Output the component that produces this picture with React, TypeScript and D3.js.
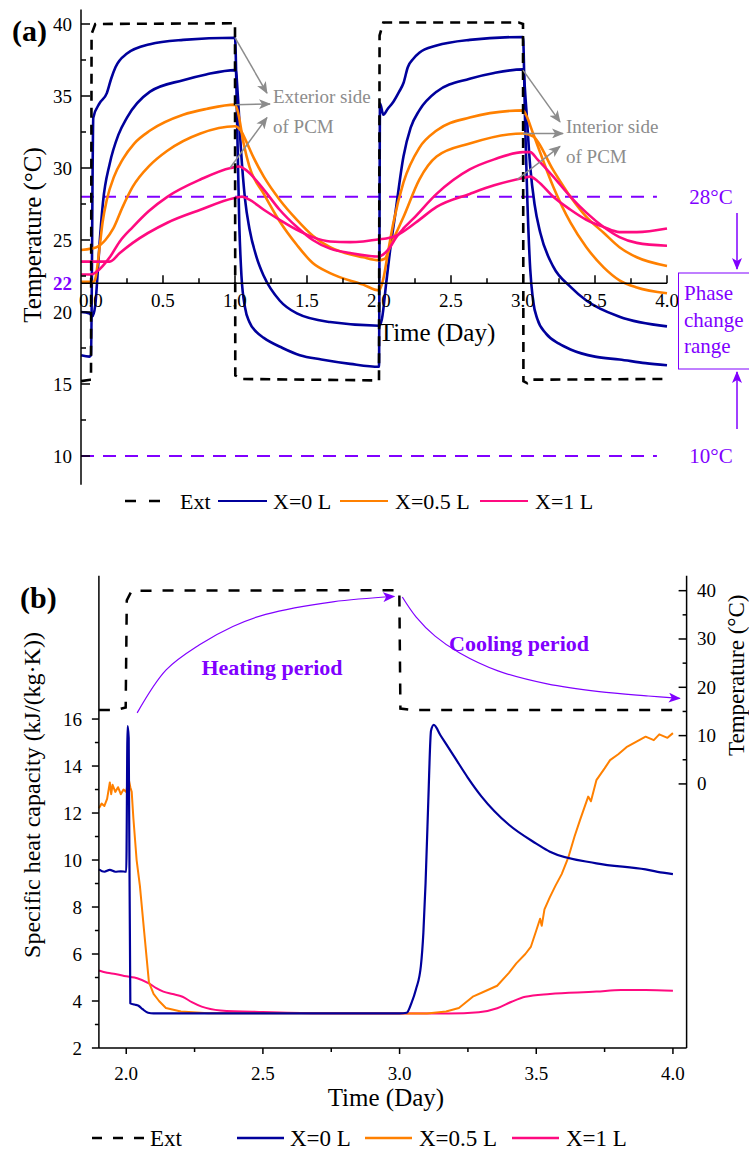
import React from "react";
import * as d3 from "d3";

type P = [number, number];

// ---------------- Colours / names ----------------
const NAVY = "#00009c";
const ORANGE = "#ff8000";
const PINK = "#ff0a80";
const PURPLE = "#8000ff";
const GRAY = "#8c8c8c";
const FONT = "'Liberation Serif', 'Times New Roman', serif";

const legendLabels = ["Ext", "X=0 L", "X=0.5 L", "X=1 L"];

// ---------------- Panel (a) data : [day, °C] ----------------
const extA: P[] = [
  [-0.069, 15.2], [-0.005, 15.3], [0.0, 15.3], [0.004, 39.3], [0.03, 40.0], [1.0, 40.05],
  [1.002, 15.6], [1.05, 15.35], [2.0, 15.25], [2.004, 39.2], [2.03, 40.1], [2.97, 40.1], [3.0, 40.0],
  [3.003, 15.2], [3.03, 15.05], [3.06, 15.3], [4.0, 15.35],
];
const navyExtA: P[] = [
  [-0.069, 17.0], [-0.01, 16.9], [0.0, 17.0], [0.016, 33.5], [0.06, 34.5], [0.11, 35.2], [0.14, 36.2],
  [0.17, 37.0], [0.25, 37.95], [0.41, 38.6], [0.64, 38.9], [1.0, 39.05],
  [1.015, 33.0], [1.03, 26.0], [1.045, 22.5], [1.07, 20.3], [1.1, 19.3], [1.15, 18.6], [1.2, 18.2],
  [1.33, 17.5], [1.45, 17.0], [1.6, 16.7], [1.8, 16.4], [2.0, 16.2],
  [2.007, 34.5], [2.03, 33.7], [2.06, 34.1], [2.1, 34.6], [2.14, 35.3], [2.17, 35.9], [2.2, 37.0],
  [2.24, 37.6], [2.28, 38.0], [2.4, 38.5], [2.63, 38.9], [3.0, 39.1],
  [3.015, 33.0], [3.03, 27.8], [3.05, 23.0], [3.07, 20.8], [3.1, 19.5], [3.16, 18.5], [3.25, 17.8],
  [3.33, 17.4], [3.5, 16.9], [3.67, 16.7], [3.85, 16.45], [4.0, 16.3],
];
const navyIntA: P[] = [
  [-0.069, 20.0], [-0.01, 19.9], [0.01, 19.7], [0.03, 20.5], [0.045, 22.5], [0.06, 24.8], [0.083, 27.6],
  [0.13, 30.3], [0.19, 32.3], [0.25, 33.5], [0.41, 35.3], [0.64, 36.1], [0.8, 36.5], [1.0, 36.8],
  [1.005, 36.8], [1.02, 35.0], [1.04, 31.5], [1.07, 27.8], [1.1, 25.8], [1.15, 23.8], [1.2, 22.5],
  [1.31, 20.8], [1.43, 19.9], [1.66, 19.3], [2.0, 19.05],
  [2.02, 19.5], [2.05, 22.0], [2.08, 24.5], [2.11, 26.6], [2.17, 30.8], [2.22, 32.8], [2.28, 34.0],
  [2.4, 35.3], [2.63, 36.2], [2.8, 36.6], [3.0, 36.85],
  [3.02, 34.5], [3.05, 30.1], [3.08, 27.5], [3.12, 25.5], [3.21, 23.15], [3.33, 21.75], [3.44, 20.8],
  [3.67, 19.67], [4.0, 19.0],
];
const orangeExtA: P[] = [
  [-0.069, 22.1], [0.02, 22.1], [0.03, 22.3], [0.06, 24.5], [0.08, 26.2], [0.11, 27.8], [0.16, 29.4],
  [0.22, 30.6], [0.3, 31.7], [0.41, 32.6], [0.64, 33.7], [0.8, 34.1], [1.0, 34.4],
  [1.02, 33.9], [1.06, 31.7], [1.1, 30.1], [1.2, 28.2], [1.31, 26.3], [1.43, 24.65], [1.54, 23.4],
  [1.66, 22.7], [1.89, 21.9], [2.0, 21.5],
  [2.03, 22.3], [2.06, 24.0], [2.1, 26.2], [2.17, 29.0], [2.28, 31.4], [2.4, 32.6], [2.63, 33.5], [3.0, 34.0],
  [3.02, 33.7], [3.07, 32.4], [3.21, 28.7], [3.33, 26.2], [3.44, 24.5], [3.56, 23.1], [3.67, 22.2],
  [3.79, 21.7], [4.0, 21.3],
];
const orangeIntA: P[] = [
  [-0.069, 24.3], [0.0, 24.4], [0.04, 24.5], [0.07, 24.7], [0.1, 25.0], [0.155, 25.8], [0.22, 27.3],
  [0.29, 28.7], [0.41, 30.2], [0.53, 31.2], [0.76, 32.4], [1.0, 32.9],
  [1.04, 32.6], [1.08, 31.8], [1.13, 30.7], [1.2, 29.4], [1.31, 27.8], [1.43, 26.4], [1.54, 25.3],
  [1.66, 24.5], [1.89, 23.8], [2.0, 23.6],
  [2.04, 23.7], [2.08, 24.6], [2.12, 25.5], [2.17, 26.6], [2.28, 29.2], [2.4, 30.8], [2.63, 31.7], [3.0, 32.4],
  [3.07, 32.2], [3.21, 29.85], [3.33, 28.0], [3.44, 26.6], [3.56, 25.5], [3.67, 24.5], [3.79, 23.8],
  [4.0, 23.2],
];
const pinkExtA: P[] = [
  [-0.069, 22.6], [0.0, 22.6], [0.04, 22.8], [0.13, 23.8], [0.2, 24.9], [0.29, 25.9], [0.4, 27.0],
  [0.53, 28.0], [0.76, 29.2], [0.97, 30.0], [1.03, 30.1], [1.07, 29.9],
  [1.2, 28.5], [1.31, 27.1], [1.43, 25.9], [1.54, 25.0], [1.66, 24.4], [1.8, 24.1], [2.0, 23.85],
  [2.03, 24.0], [2.07, 24.4], [2.12, 25.2], [2.17, 25.8], [2.24, 26.5], [2.4, 28.2], [2.63, 29.9],
  [2.8, 30.6], [3.0, 31.1], [3.05, 31.1], [3.1, 30.6],
  [3.21, 29.4], [3.33, 28.0], [3.44, 26.9], [3.56, 25.9], [3.67, 25.2], [3.79, 24.8], [4.0, 24.6],
];
const pinkIntA: P[] = [
  [-0.069, 23.5], [0.0, 23.5], [0.13, 23.5], [0.2, 24.1], [0.29, 24.8], [0.53, 26.2], [0.76, 27.1],
  [0.99, 27.9], [1.05, 28.0], [1.1, 27.8],
  [1.2, 27.1], [1.31, 26.4], [1.43, 25.7], [1.54, 25.2], [1.66, 24.9], [1.8, 24.85], [1.89, 24.9], [2.0, 25.05],
  [2.05, 25.1], [2.12, 25.3], [2.2, 25.8], [2.28, 26.4], [2.4, 27.3], [2.63, 28.2], [2.8, 28.8],
  [3.0, 29.3], [3.05, 29.4], [3.1, 29.1],
  [3.21, 28.0], [3.33, 27.1], [3.44, 26.4], [3.56, 25.9], [3.67, 25.55], [3.79, 25.55], [4.0, 25.8],
];

const xTicksA = [0, 0.5, 1.0, 1.5, 2.0, 2.5, 3.0, 3.5, 4.0];
const xMinorA = [0.25, 0.75, 1.25, 1.75, 2.25, 2.75, 3.25, 3.75];
const yTicksA = [10, 15, 20, 25, 30, 35, 40];
const yMinorA = [12.5, 17.5, 22.5, 27.5, 32.5, 37.5];
const phaseLevels = [28, 10];

// annotation arrows (start on curve, tip) in data units
const extArrows: [P, P][] = [
  [[1.0, 39.05], [1.222, 35.2]],
  [[1.0, 34.4], [1.243, 34.45]],
  [[0.965, 30.0], [1.222, 33.5]],
];
const intArrows: [P, P][] = [
  [[3.0, 36.8], [3.257, 33.2]],
  [[3.0, 32.4], [3.278, 32.4]],
  [[2.96, 29.2], [3.257, 31.5]],
];

// ---------------- Panel (b) data ----------------
const extB: P[] = [
  [1.9, 15.3], [1.96, 15.3], [1.998, 15.8], [2.002, 38.0], [2.02, 40.0], [2.999, 40.1],
  [3.003, 15.6], [3.05, 15.3], [4.0, 15.3],
];
const navyB: P[] = [
  [1.9, 9.6], [1.92, 9.5], [1.94, 9.58], [1.96, 9.5], [1.98, 9.52], [2.0, 9.5], [2.005, 15.7],
  [2.009, 15.2], [2.015, 3.9], [2.03, 3.85], [2.045, 3.8], [2.06, 3.65], [2.08, 3.5], [2.1, 3.47],
  [3.0, 3.47], [3.026, 3.5], [3.043, 3.9], [3.06, 4.5], [3.078, 5.5], [3.087, 6.9], [3.095, 9.0],
  [3.105, 12.5], [3.115, 15.5], [3.125, 15.75], [3.15, 15.3], [3.2, 14.4], [3.25, 13.5], [3.3, 12.7],
  [3.4, 11.5], [3.5, 10.7], [3.55, 10.35], [3.72, 9.86], [3.9, 9.6], [3.97, 9.45], [4.0, 9.4],
];
const orangeB: P[] = [
  [1.9, 12.2], [1.91, 12.4], [1.92, 12.3], [1.93, 12.6], [1.94, 13.3], [1.945, 12.8], [1.95, 13.2],
  [1.96, 12.9], [1.97, 13.1], [1.98, 12.8], [1.99, 13.0], [2.0, 12.9], [2.008, 13.5], [2.015, 13.1],
  [2.02, 12.9], [2.026, 11.8], [2.038, 10.0], [2.05, 8.9], [2.066, 6.9], [2.083, 4.8], [2.1, 4.3],
  [2.12, 4.0], [2.145, 3.7], [2.2, 3.55], [2.3, 3.48], [3.1, 3.47], [3.17, 3.55], [3.217, 3.7],
  [3.27, 4.2], [3.3, 4.35], [3.357, 4.65], [3.4, 5.2], [3.427, 5.6], [3.46, 6.0], [3.48, 6.3],
  [3.5, 7.0], [3.514, 7.5], [3.52, 7.2], [3.53, 7.9], [3.549, 8.4], [3.57, 8.9], [3.593, 9.4],
  [3.617, 10.1], [3.64, 11.0], [3.66, 11.7], [3.69, 12.7], [3.7, 12.5], [3.72, 13.4], [3.75, 13.9],
  [3.77, 14.25], [3.8, 14.5], [3.83, 14.8], [3.86, 15.0], [3.9, 15.25], [3.93, 15.1], [3.95, 15.35],
  [3.98, 15.2], [4.0, 15.4],
];
const pinkB: P[] = [
  [1.9, 5.3], [1.93, 5.2], [1.96, 5.15], [2.0, 5.05], [2.04, 4.97], [2.083, 4.75], [2.11, 4.55],
  [2.136, 4.4], [2.17, 4.3], [2.206, 4.18], [2.24, 3.95], [2.276, 3.76], [2.345, 3.6], [2.5, 3.53],
  [2.7, 3.48], [3.18, 3.47], [3.29, 3.52], [3.357, 3.69], [3.41, 3.97], [3.46, 4.18], [3.55, 4.3],
  [3.72, 4.4], [3.81, 4.47], [3.9, 4.47], [4.0, 4.44],
];

const xTicksB = [2.0, 2.5, 3.0, 3.5, 4.0];
const xMinorB = [2.25, 2.75, 3.25, 3.75];
const yTicksB = [2, 4, 6, 8, 10, 12, 14, 16];
const yMinorB = [3, 5, 7, 9, 11, 13, 15];
const yTicksBR = [0, 10, 20, 30, 40];
const yMinorBR = [5, 15, 25, 35];

// period arrows (day, °C on right axis)
const heatingArrow: P[] = [
  [2.04, 14.7], [2.146, 23.6], [2.268, 28.8], [2.39, 32.6], [2.51, 35.1], [2.756, 37.7], [2.98, 38.8],
];
const coolingArrow: P[] = [
  [3.01, 38.7], [3.06, 34.6], [3.13, 30.6], [3.22, 27.1], [3.36, 23.4], [3.54, 20.7], [3.73, 19.1], [3.91, 18.2], [4.025, 17.7],
];

// ---------------- Scales ----------------
const xA = d3.scaleLinear().domain([-0.0694, 4]).range([81, 667]);
const yA = d3.scaleLinear().domain([8, 41]).range([484.8, 9.6]);
const xB = d3.scaleLinear().domain([1.9, 4.05]).range([98.9, 686.6]);
const yB = d3.scaleLinear().domain([2, 22.1]).range([1048, 575.7]);
const yBR = d3.scaleLinear().domain([-54.66, 43.1]).range([1048, 575.7]);

const lineA = d3.line<P>().x((d) => xA(d[0])).y((d) => yA(d[1])).curve(d3.curveMonotoneX);
const lineALin = d3.line<P>().x((d) => xA(d[0])).y((d) => yA(d[1]));
const lineB = d3.line<P>().x((d) => xB(d[0])).y((d) => yB(d[1])).curve(d3.curveMonotoneX);
const lineBLin = d3.line<P>().x((d) => xB(d[0])).y((d) => yB(d[1]));
const lineBR = d3.line<P>().x((d) => xB(d[0])).y((d) => yBR(d[1]));
const lineBRCurve = d3.line<P>().x((d) => xB(d[0])).y((d) => yBR(d[1])).curve(d3.curveCatmullRom);

const fmt1 = d3.format(".1f");

export default function App() {
  const axA = xA(-0.0694);
  const ayA = yA(22);
  const axB = xB(1.9);
  const axBR = xB(4.05);
  const ayB = yB(2);
  const topB = yB(22.1);

  const t = { fontFamily: FONT, fill: "#000" } as const;

  return (
    <svg
      width={749}
      height={1151}
      viewBox="0 0 749 1151"
      style={{ position: "absolute", left: 0, top: 0, background: "#fff" }}
    >
      <defs>
        <marker id="gArrow" viewBox="0 0 12 10" refX="11" refY="5" markerWidth="12" markerHeight="10" markerUnits="userSpaceOnUse" orient="auto">
          <path d="M0,0 L12,5 L0,10 L3,5 z" fill={GRAY} />
        </marker>
        <marker id="pArrow" viewBox="0 0 12 10" refX="11" refY="5" markerWidth="12" markerHeight="10" markerUnits="userSpaceOnUse" orient="auto">
          <path d="M0,0 L12,5 L0,10 L3,5 z" fill={PURPLE} />
        </marker>
      </defs>

      {/* ================= Panel (a) ================= */}
      <text x={12} y={41} style={{ ...t, fontSize: 30, fontWeight: "bold" }}>(a)</text>

      {/* phase-change dashed levels */}
      {phaseLevels.map((v) => (
        <line key={v} x1={axA} x2={xA(3.93)} y1={yA(v)} y2={yA(v)} stroke={PURPLE} strokeWidth={2} strokeDasharray="13,9" />
      ))}

      {/* curves */}
      {[
        [navyExtA, NAVY], [navyIntA, NAVY], [orangeExtA, ORANGE], [orangeIntA, ORANGE], [pinkExtA, PINK], [pinkIntA, PINK],
      ].map(([d, c], i) => (
        <path key={i} d={lineA(d as P[]) || ""} fill="none" stroke={c as string} strokeWidth={2.6} strokeLinejoin="round" />
      ))}
      <path d={lineALin(extA) || ""} fill="none" stroke="#000" strokeWidth={2.6} strokeDasharray="10,7" />

      {/* axes */}
      <line x1={axA} x2={axA} y1={yA(41)} y2={yA(8)} stroke="#000" strokeWidth={1.5} />
      <line x1={axA} x2={xA(4)} y1={ayA} y2={ayA} stroke="#000" strokeWidth={1.5} />
      {xTicksA.map((v) => (
        <g key={v}>
          <line x1={xA(v)} x2={xA(v)} y1={ayA} y2={ayA - 8} stroke="#000" strokeWidth={1.5} />
          <text x={xA(v)} y={307} textAnchor="middle" style={{ ...t, fontSize: 19 }}>{fmt1(v)}</text>
        </g>
      ))}
      {xMinorA.map((v) => (
        <line key={v} x1={xA(v)} x2={xA(v)} y1={ayA} y2={ayA - 5} stroke="#000" strokeWidth={1.5} />
      ))}
      {yTicksA.map((v) => (
        <g key={v}>
          <line x1={axA} x2={axA + 9} y1={yA(v)} y2={yA(v)} stroke="#000" strokeWidth={1.5} />
          <text x={72} y={yA(v) + 6.5} textAnchor="end" style={{ ...t, fontSize: 19 }}>{v}</text>
        </g>
      ))}
      {yMinorA.map((v) => (
        <line key={v} x1={axA} x2={axA + 5} y1={yA(v)} y2={yA(v)} stroke="#000" strokeWidth={1.5} />
      ))}
      <text x={72} y={ayA + 6.5} textAnchor="end" style={{ ...t, fontSize: 19, fontWeight: "bold", fill: PURPLE }}>22</text>

      <text x={437} y={341} textAnchor="middle" style={{ ...t, fontSize: 25 }}>Time (Day)</text>
      <text transform={`translate(41,${yA(25.35)}) rotate(-90)`} textAnchor="middle" style={{ ...t, fontSize: 25 }}>Temperature (°C)</text>

      {/* annotations */}
      {extArrows.concat(intArrows).map(([s, e], i) => (
        <line key={i} x1={xA(s[0])} y1={yA(s[1])} x2={xA(e[0])} y2={yA(e[1])} stroke={GRAY} strokeWidth={1.5} markerEnd="url(#gArrow)" />
      ))}
      <text x={273} y={103} style={{ ...t, fontSize: 19, fill: GRAY }}>Exterior side</text>
      <text x={273} y={133} style={{ ...t, fontSize: 19, fill: GRAY }}>of PCM</text>
      <text x={566} y={133} style={{ ...t, fontSize: 19, fill: GRAY }}>Interior side</text>
      <text x={566} y={163} style={{ ...t, fontSize: 19, fill: GRAY }}>of PCM</text>

      {/* phase change box */}
      <text x={711} y={yA(28) + 7} textAnchor="middle" style={{ ...t, fontSize: 21, fill: PURPLE }}>28°C</text>
      <text x={711} y={yA(10) + 7} textAnchor="middle" style={{ ...t, fontSize: 21, fill: PURPLE }}>10°C</text>
      <line x1={737} x2={737} y1={213} y2={269} stroke={PURPLE} strokeWidth={1.5} markerEnd="url(#pArrow)" />
      <line x1={737} x2={737} y1={429} y2={372} stroke={PURPLE} strokeWidth={1.5} markerEnd="url(#pArrow)" />
      <rect x={678.5} y={273} width={72} height={96} fill="none" stroke={PURPLE} strokeWidth={1} />
      <text x={684} y={300} style={{ ...t, fontSize: 21, fill: PURPLE }}>Phase</text>
      <text x={684} y={327} style={{ ...t, fontSize: 21, fill: PURPLE }}>change</text>
      <text x={684} y={353} style={{ ...t, fontSize: 21, fill: PURPLE }}>range</text>

      {/* legend (a) */}
      <line x1={125} x2={160} y1={501} y2={501} stroke="#000" strokeWidth={2.6} strokeDasharray="11,13" />
      <text x={180} y={509} style={{ ...t, fontSize: 22 }}>{legendLabels[0]}</text>
      <line x1={218} x2={267} y1={501} y2={501} stroke={NAVY} strokeWidth={2.2} />
      <text x={273} y={509} style={{ ...t, fontSize: 22 }}>{legendLabels[1]}</text>
      <line x1={340} x2={388} y1={501} y2={501} stroke={ORANGE} strokeWidth={2.2} />
      <text x={395} y={509} style={{ ...t, fontSize: 22 }}>{legendLabels[2]}</text>
      <line x1={480} x2={528} y1={501} y2={501} stroke={PINK} strokeWidth={2.2} />
      <text x={535} y={509} style={{ ...t, fontSize: 22 }}>{legendLabels[3]}</text>

      {/* ================= Panel (b) ================= */}
      <text x={20} y={608} style={{ ...t, fontSize: 30, fontWeight: "bold" }}>(b)</text>

      <path d={lineB(pinkB) || ""} fill="none" stroke={PINK} strokeWidth={2} />
      <path d={lineBLin(orangeB) || ""} fill="none" stroke={ORANGE} strokeWidth={2} strokeLinejoin="round" />
      <path d={lineB(navyB) || ""} fill="none" stroke={NAVY} strokeWidth={2.2} strokeLinejoin="round" />
      <path d={lineBR(extB) || ""} fill="none" stroke="#000" strokeWidth={2.5} strokeDasharray="11,11" />

      <path d={lineBRCurve(heatingArrow) || ""} fill="none" stroke={PURPLE} strokeWidth={1.2} markerEnd="url(#pArrow)" />
      <path d={lineBRCurve(coolingArrow) || ""} fill="none" stroke={PURPLE} strokeWidth={1.2} markerEnd="url(#pArrow)" />
      <text x={272} y={675} textAnchor="middle" style={{ ...t, fontSize: 22, fontWeight: "bold", fill: PURPLE }}>Heating period</text>
      <text x={519} y={651} textAnchor="middle" style={{ ...t, fontSize: 22, fontWeight: "bold", fill: PURPLE }}>Cooling period</text>

      {/* axes b */}
      <line x1={axB} x2={axB} y1={topB} y2={ayB} stroke="#000" strokeWidth={1.5} />
      <line x1={axBR} x2={axBR} y1={topB} y2={ayB} stroke="#000" strokeWidth={1.5} />
      <line x1={axB} x2={axBR} y1={ayB} y2={ayB} stroke="#000" strokeWidth={1.5} />
      {xTicksB.map((v) => (
        <g key={v}>
          <line x1={xB(v)} x2={xB(v)} y1={ayB} y2={ayB + 6} stroke="#000" strokeWidth={1.5} />
          <text x={xB(v)} y={1080} textAnchor="middle" style={{ ...t, fontSize: 19 }}>{fmt1(v)}</text>
        </g>
      ))}
      {xMinorB.map((v) => (
        <line key={v} x1={xB(v)} x2={xB(v)} y1={ayB} y2={ayB + 4} stroke="#000" strokeWidth={1.5} />
      ))}
      {yTicksB.map((v) => (
        <g key={v}>
          <line x1={axB - 7} x2={axB} y1={yB(v)} y2={yB(v)} stroke="#000" strokeWidth={1.5} />
          <text x={82} y={yB(v) + 6.5} textAnchor="end" style={{ ...t, fontSize: 19 }}>{v}</text>
        </g>
      ))}
      {yMinorB.map((v) => (
        <line key={v} x1={axB - 4} x2={axB} y1={yB(v)} y2={yB(v)} stroke="#000" strokeWidth={1.5} />
      ))}
      {yTicksBR.map((v) => (
        <g key={v}>
          <line x1={axBR - 8} x2={axBR} y1={yBR(v)} y2={yBR(v)} stroke="#000" strokeWidth={1.5} />
          <text x={697} y={yBR(v) + 6.5} style={{ ...t, fontSize: 19 }}>{v}</text>
        </g>
      ))}
      {yMinorBR.map((v) => (
        <line key={v} x1={axBR - 4} x2={axBR} y1={yBR(v)} y2={yBR(v)} stroke="#000" strokeWidth={1.5} />
      ))}

      <text x={xB(2.95)} y={1106} textAnchor="middle" style={{ ...t, fontSize: 25 }}>Time (Day)</text>
      <text transform={`translate(40,795) rotate(-90)`} textAnchor="middle" style={{ ...t, fontSize: 24 }}>Specific heat capacity (kJ/(kg·K))</text>
      <text transform={`translate(744,${yBR(22.5)}) rotate(-90)`} textAnchor="middle" style={{ ...t, fontSize: 23 }}>Temperature (°C)</text>

      {/* legend (b) */}
      <line x1={92} x2={144} y1={1138} y2={1138} stroke="#000" strokeWidth={2.6} strokeDasharray="10,11" />
      <text x={150} y={1146} style={{ ...t, fontSize: 23 }}>{legendLabels[0]}</text>
      <line x1={237} x2={284} y1={1138} y2={1138} stroke={NAVY} strokeWidth={2.4} />
      <text x={290} y={1146} style={{ ...t, fontSize: 23 }}>{legendLabels[1]}</text>
      <line x1={365} x2={412} y1={1138} y2={1138} stroke={ORANGE} strokeWidth={2.4} />
      <text x={419} y={1146} style={{ ...t, fontSize: 23 }}>{legendLabels[2]}</text>
      <line x1={512} x2={559} y1={1138} y2={1138} stroke={PINK} strokeWidth={2.4} />
      <text x={566} y={1146} style={{ ...t, fontSize: 23 }}>{legendLabels[3]}</text>
    </svg>
  );
}
